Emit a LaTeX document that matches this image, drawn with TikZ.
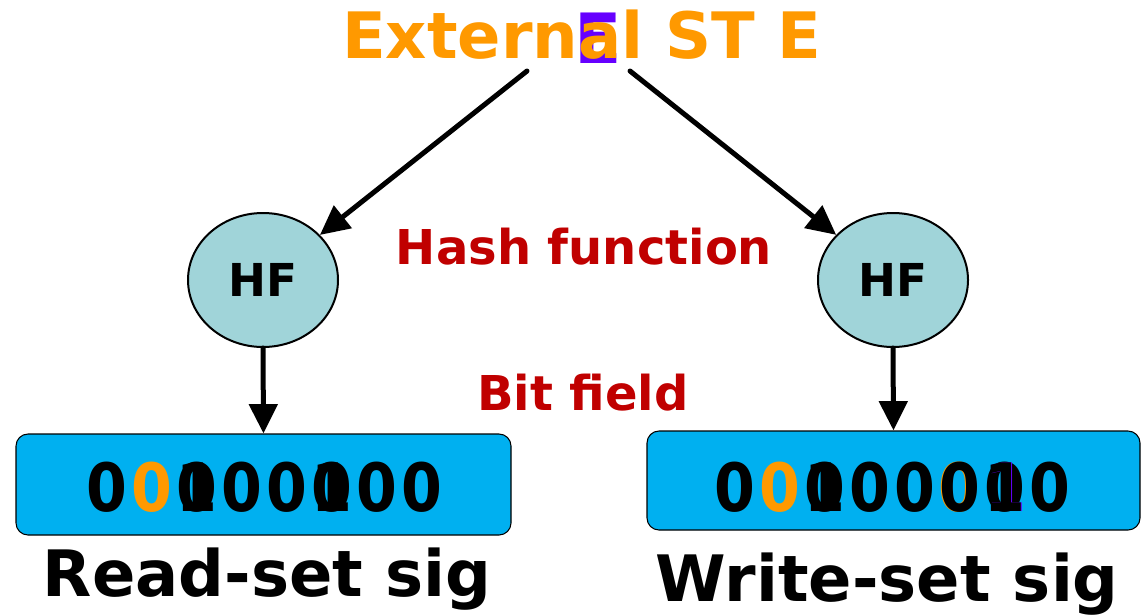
\documentclass[tikz,border=0pt]{standalone}
\usepackage{fontspec}
\setmainfont{DejaVu Sans}
\usetikzlibrary{shapes.geometric,arrows.meta}
\definecolor{stOrange}{HTML}{FF9900}
\definecolor{stRed}{HTML}{C00000}
\definecolor{stPurple}{HTML}{6600FF}
\definecolor{hfFill}{HTML}{A0D4D9}
\definecolor{sigFill}{HTML}{00B0F0}
% narrow digit for the signature fields
\newcommand{\sigdigit}[1]{\scalebox{0.88}[1]{#1}}
\begin{document}
\begin{tikzpicture}[x=0.75pt,y=-0.75pt,
  hf/.style={ellipse,draw=black,line width=1.5pt,fill=hfFill,inner sep=0pt,
    minimum width=112.5pt,minimum height=100.5pt,
    font=\bfseries\fontsize{34}{40}\selectfont},
  sigbox/.style={rectangle,rounded corners=9pt,draw=black,line width=0.8pt,fill=sigFill,
    inner sep=0pt},
  flow/.style={line width=3.75pt,line cap=round,-{Triangle[length=22pt,width=21pt]}},
  bit/.style={anchor=base,inner sep=0pt,font=\bfseries\fontsize{50}{56}\selectfont},
  note/.style={anchor=base,inner sep=0pt,text=stRed,font=\bfseries\fontsize{36}{42}\selectfont},
  caption/.style={anchor=base,inner sep=0pt,font=\bfseries\fontsize{48}{54}\selectfont}]
\useasboundingbox (0,0) rectangle (1141,614);

% title, with a purple letter showing from behind the "a"
\node[anchor=base west,inner sep=0pt,text=stOrange,font=\bfseries\fontsize{48}{54}\selectfont] (title) at (342,58)
  {Extern\makebox[0pt][l]{\hspace{-3pt}\raisebox{-4pt}{\fontsize{52}{56}\selectfont\color{stPurple}E}}al ST E};
\coordinate (srcL) at (527,71);
\coordinate (srcR) at (630,71);

% hash functions
\node[hf] (hfL) at (263,280) {HF};
\node[hf] (hfR) at (893,280) {HF};
\node[note] (hashlbl) at (584,264) {Hash function};
\node[note] (bitlbl) at (583,410) {Bit field};

% signature boxes
\node[sigbox,minimum width=371.25pt,minimum height=75.75pt] (boxL) at (263.5,484.5) {};
\node[sigbox,minimum width=369.75pt,minimum height=74.25pt] (boxR) at (893.5,480.5) {};

% connectors
\draw[flow] (srcL) -- (hfL);
\draw[flow] (srcR) -- (hfR);
\draw[flow] (hfL.south) -- (boxL.north);
\draw[flow] (hfR.south) -- (boxR.north);

% read-set bits (positions 2 and 5 hold a 0 and a 1 on top of each other)
\foreach \i in {0,2,3,4,5,6,7}
  \node[bit] (rb\i) at (107+45*\i,511) {\sigdigit{0}};
\node[bit,text=stOrange] (rb1) at (152,511) {\sigdigit{0}};
\node[bit] (rb2b) at (197,511) {\sigdigit{1}};
\node[bit] (rb5b) at (332,511) {\sigdigit{1}};

% write-set bits (positions 2 and 6 hold a 0 and a 1 on top of each other)
\foreach \i in {0,2,3,4,6,7}
  \node[bit] (wb\i) at (735+45*\i,511) {\sigdigit{0}};
\node[bit,text=stOrange] (wb1) at (780,511) {\sigdigit{0}};
\node[bit] (wb2b) at (825,511) {\sigdigit{1}};
\node[bit,text=stOrange] (wb5o) at (959,511) {\sigdigit{0}};
\node[bit] (wb5) at (960,511) {\sigdigit{0}};
\node[bit,text=stPurple] (wb6p) at (1006,511) {\sigdigit{1}};
\node[bit] (wb6b) at (1005,511) {\sigdigit{1}};

% captions
\node[caption] (capL) at (267,596) {Read-set sig};
\node[caption] (capR) at (887,601) {Write-set sig};
\end{tikzpicture}
\end{document}
